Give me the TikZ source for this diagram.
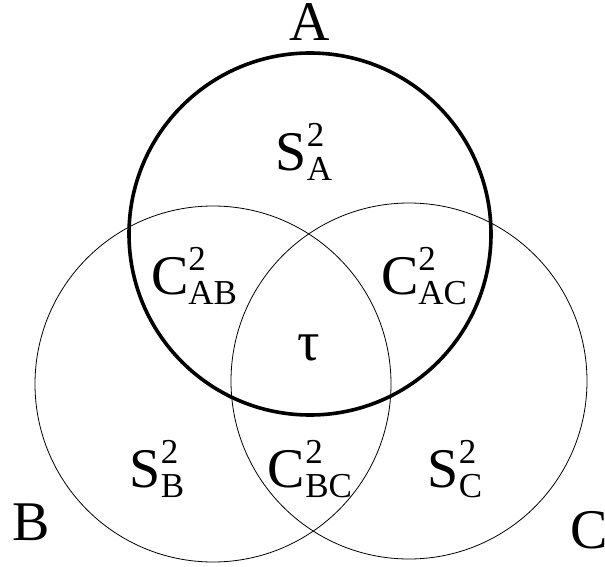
\documentclass[tikz,border=0pt]{standalone}
\usepackage{fontspec}
\setmainfont{Liberation Serif}
\usepackage{tikz}
\newcommand{\idx}{\fontsize{35}{35}\selectfont}
\newcommand{\reg}[2]{#1\rlap{\raisebox{0.42em}{\idx 2}}\raisebox{-0.18em}{\idx #2}}

\begin{document}
\begin{tikzpicture}[x=1pt,y=-1pt,
  setA/.style={draw,line width=3.6pt},
  setBC/.style={draw,line width=0.8pt},
  lbl/.style={anchor=base,inner sep=0pt,font=\fontsize{56}{60}\selectfont},
  setname/.style={lbl,text height=0.68em,text depth=0pt}]
 \useasboundingbox (0,0) rectangle (605,567);
 % the three sets
 \coordinate (ca) at (310,234);
 \coordinate (cb) at (213,384);
 \coordinate (cc) at (409,381);
 \draw[setBC] (cb) circle[radius=178];
 \draw[setBC] (cc) circle[radius=178];
 \draw[setA] (ca) circle[radius=181];
 % set names
 \node[setname] (na) at (310,41) {A};
 \node[setname] (nb) at (31,540) {B};
 \node[setname,anchor=base west] (nc) at (570,548) {C};
 % regions
 \node[lbl] (sa) at (304,170) {\reg{S}{A}};
 \node[lbl] (cab) at (194,294) {\reg{C}{AB}};
 \node[lbl] (cac) at (424,294) {\reg{C}{AC}};
 \node[lbl] (tau) at (309,360) {τ};
 \node[lbl] (sb) at (157,487) {\reg{S}{B}};
 \node[lbl] (cbc) at (310,487) {\reg{C}{BC}};
 \node[lbl] (sc) at (455,487) {\reg{S}{C}};
\end{tikzpicture}
\end{document}
